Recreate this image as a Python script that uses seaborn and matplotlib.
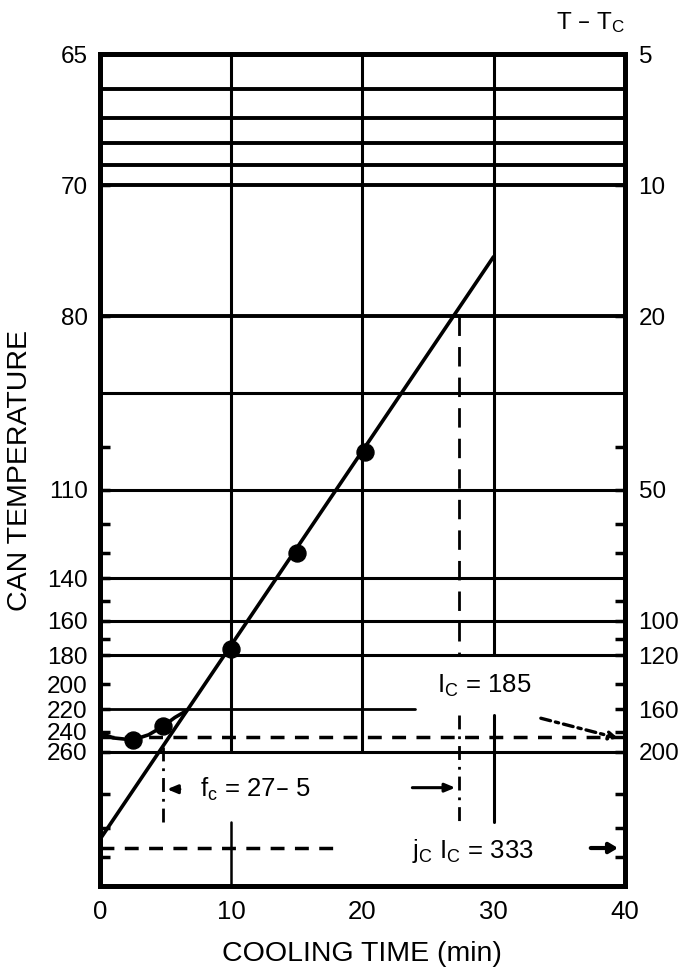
import numpy as np
import pandas as pd
import matplotlib
matplotlib.use("Agg")
import matplotlib.pyplot as plt
from matplotlib.ticker import FixedLocator, NullFormatter
import seaborn as sns

# cooling water temperature, can temp = Tc + (T - Tc)
tc = 60

# straight-line part of the cooling curve (min, T - Tc)
line_t = [0, 30]
line_d = [318, 14.6]

# lag part of the curve near the start
lag_t = [0, 1, 2.5, 3.7, 4.8, 5.7, 6.6]
lag_d = [181, 186, 188, 183, 175, 167, 161]

# measured points
pt_t = [2.5, 4.8, 10, 15, 20.2]
pt_d = [188, 175, 116, 70, 41]

# axis ticks
left_ticks = [5, 10, 20, 50, 80, 100, 120, 140, 160, 180, 200]
left_labels = [str(tc + v) for v in left_ticks]
right_ticks = [5, 10, 20, 50, 100, 120, 160, 200]
stub_ticks = [40, 60, 70, 90, 110, 140, 160, 180, 250, 300, 350]
x_ticks = [0, 10, 20, 30, 40]

# full width grid lines (T - Tc)
hgrid = [6, 7, 8, 9, 10, 20, 30, 50, 80, 100, 120, 200]
vgrid = [10, 20]

fc_start, fc_end = 4.8, 27.4
ic = 185
jc_ic = 333

sns.set_style("white")
plt.rcParams['font.family'] = ['Liberation Sans', 'DejaVu Sans']
plt.rcParams['mathtext.default'] = 'regular'
plt.rcParams['text.color'] = 'black'
plt.rcParams['axes.labelcolor'] = 'black'
plt.rcParams['xtick.color'] = 'black'
plt.rcParams['ytick.color'] = 'black'

fig = plt.figure(figsize=(6.85, 9.67), dpi=100)
ax = fig.add_axes([0.146, 0.0838, 0.766, 0.8602])

k = 'black'
fs = 17.5
ymax, ymin = 407, 5

# grid
for v in hgrid:
    lw = 2.8 if v <= 20 else 2.2
    ax.plot([0, 40], [v, v], color=k, lw=lw, zorder=1)
ax.plot([0, 24], [160, 160], color=k, lw=2.0, zorder=1)
for v in vgrid:
    ax.plot([v, v], [ymin, 200], color=k, lw=2.2, zorder=1)
ax.plot([10, 10], [290, ymax], color=k, lw=1.8, zorder=1)
ax.plot([30, 30], [ymin, 120], color=k, lw=2.2, zorder=1)
ax.plot([30, 30], [165, 290], color=k, lw=2.2, zorder=1)

# dashed construction lines
ax.plot([0, 40], [ic, ic], color=k, lw=2.5, ls=(0, (4, 3)), zorder=2)
ax.plot([0, 18], [jc_ic, jc_ic], color=k, lw=2.5, ls=(0, (4, 3)), zorder=2)
ax.plot([fc_end, fc_end], [20, 120], color=k, lw=2.0, ls=(0, (7, 4)), zorder=2)
ax.plot([fc_end, fc_end], [165, 290], color=k, lw=2.0, ls=(0, (5, 2.5, 1, 2.5)), zorder=2)
ax.plot([fc_start, fc_start], [195, 295], color=k, lw=2.0, ls=(0, (5, 2.5, 1, 2.5)), zorder=2)

# curve and points
sns.lineplot(x=line_t, y=line_d, ax=ax, color=k, lw=2.6, zorder=3)
sns.lineplot(x=lag_t, y=lag_d, ax=ax, color=k, lw=2.6, zorder=3, sort=False)
sns.scatterplot(x=pt_t, y=pt_d, ax=ax, color=k, s=150, edgecolor=k, zorder=4)

ax.set_yscale('log')
ax.set_ylim(ymax, ymin)
ax.set_xlim(0, 40)

# arrows
arr = dict(arrowstyle='-|>,head_length=0.6,head_width=0.25', color=k, lw=2.2)
ax.annotate('', xy=(fc_start + 0.1, 244), xytext=(6.3, 244), arrowprops=arr)
ax.annotate('', xy=(fc_end - 0.1, 242), xytext=(23.6, 242), arrowprops=arr)
ax.annotate('', xy=(39.7, 333), xytext=(37.2, 333),
            arrowprops=dict(arrowstyle='-|>,head_length=0.5,head_width=0.3', color=k, lw=3))
ax.annotate('', xy=(39.7, 187), xytext=(33.4, 167),
            arrowprops=dict(arrowstyle='-|>,head_length=0.5,head_width=0.25', color=k,
                            lw=2.4, ls=(0, (3, 1.5, 1, 1.5))))

# labels inside the chart
ax.text(7.6, 244, r'f$_c$ = 27– 5', fontsize=18.5, va='center', ha='left')
ax.text(25.7, 141, r'I$_C$ = 185', fontsize=18.5, va='center', ha='left')
ax.text(23.8, 338, r'j$_C$ I$_C$ = 333', fontsize=18.5, va='center', ha='left')

# left axis
ax.yaxis.set_major_locator(FixedLocator(left_ticks))
ax.set_yticklabels(left_labels)
ax.yaxis.set_minor_locator(FixedLocator(stub_ticks))
ax.yaxis.set_minor_formatter(NullFormatter())
ax.tick_params(axis='y', which='both', direction='in', length=7, width=2.5,
               left=True, right=False, labelsize=fs, pad=9)
ax.set_xticks(x_ticks)
ax.tick_params(axis='x', length=0, labelsize=fs + 1, pad=10)
ax.set_ylabel('CAN TEMPERATURE', fontsize=20.5, labelpad=10)
ax.set_xlabel('COOLING TIME (min)', fontsize=20.5, labelpad=12)

# right axis
ax2 = ax.twinx()
ax2.set_yscale('log')
ax2.set_ylim(ymax, ymin)
ax2.yaxis.set_major_locator(FixedLocator(right_ticks))
ax2.set_yticklabels([str(v) for v in right_ticks])
ax2.yaxis.set_minor_locator(FixedLocator(stub_ticks))
ax2.yaxis.set_minor_formatter(NullFormatter())
ax2.tick_params(axis='y', which='both', direction='in', length=7, width=2.5,
                right=True, left=False, labelsize=fs, pad=10)
ax2.set_ylabel('')

for a in (ax, ax2):
    for s in a.spines.values():
        s.set_linewidth(3.5)
        s.set_color(k)

fig.text(0.862, 0.977, r'T – T$_C$', fontsize=fs, ha='center', va='center')

fig.savefig('out.png', dpi=100)
